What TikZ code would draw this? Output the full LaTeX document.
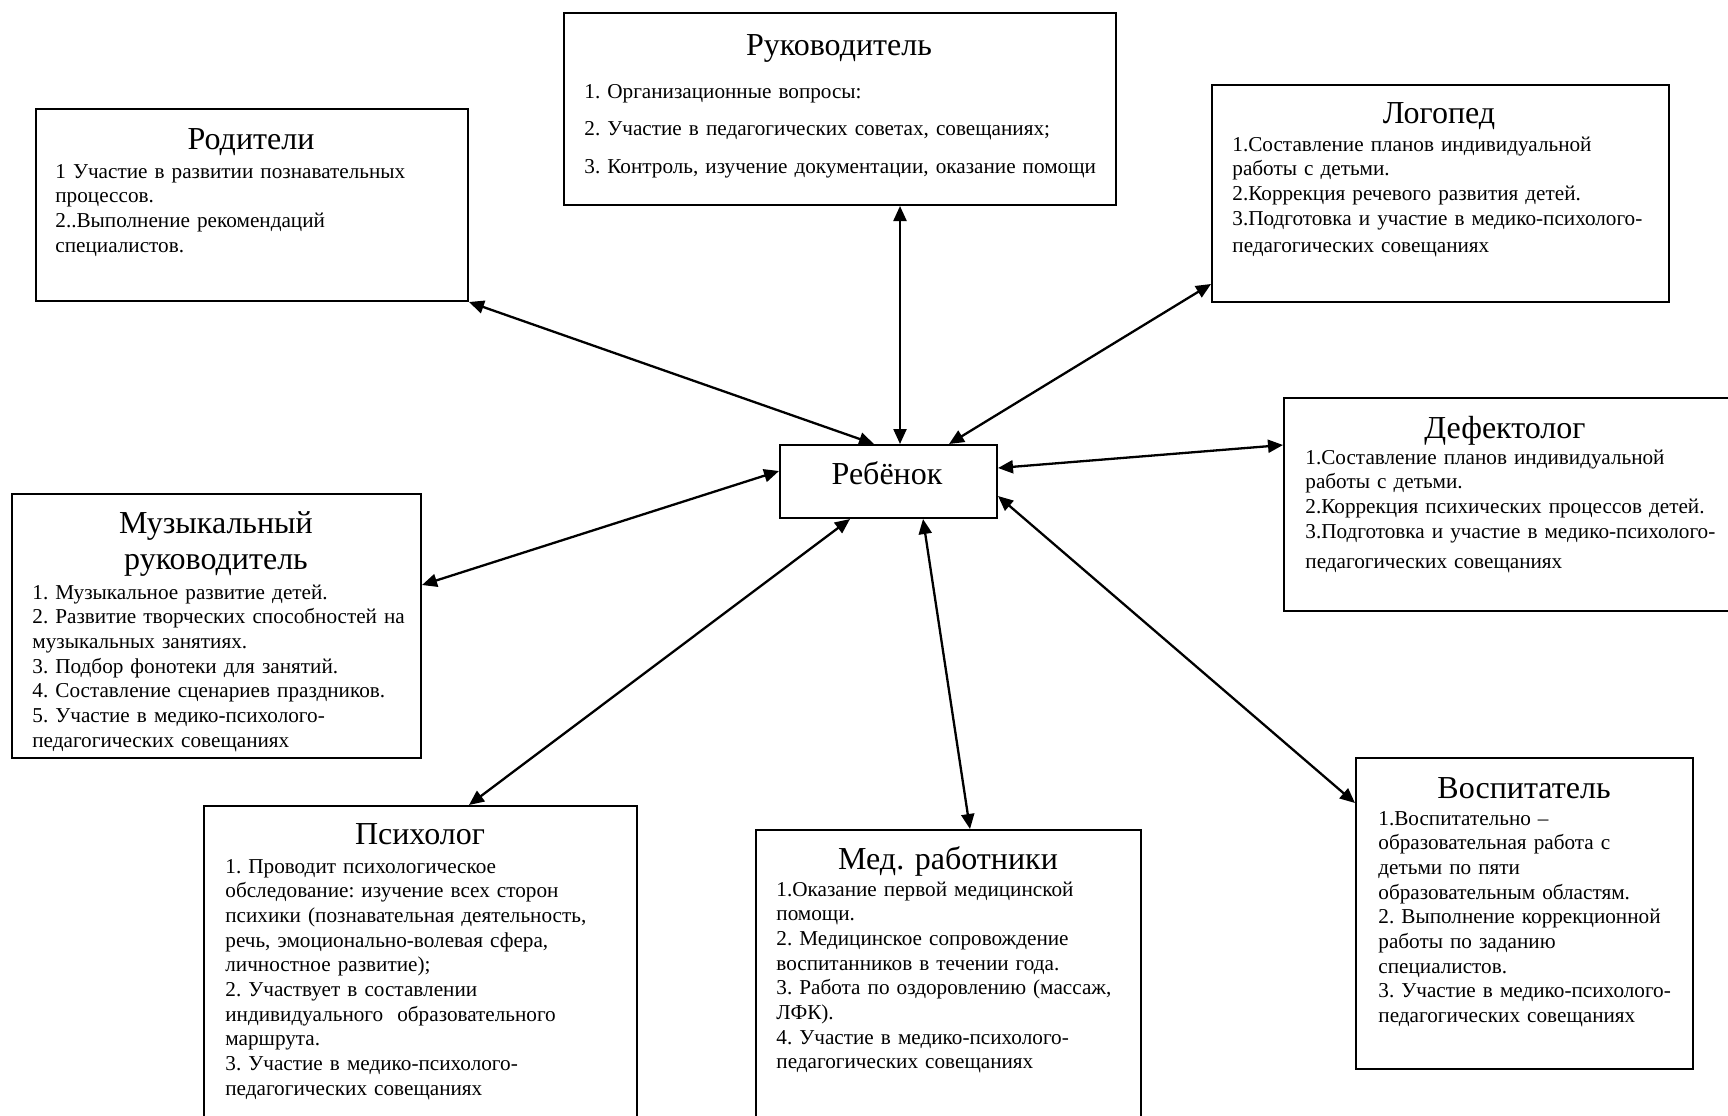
\documentclass[tikz,border=0pt]{standalone}
\usepackage{fontspec}
\setmainfont{Liberation Serif}
\frenchspacing
\usetikzlibrary{arrows.meta}
\begin{document}
\begin{tikzpicture}[x=0.5pt,y=-0.5pt,
  box/.style={draw, line width=1pt, inner sep=0pt, anchor=north west},
  ttl/.style={anchor=base, inner sep=0pt, text width=210pt, align=center, font=\fontsize{16}{18}\selectfont},
  body/.style={anchor=base west, inner sep=0pt, text width=280pt, align=left, font=\fontsize{10.6}{12.35}\selectfont},
  dar/.style={{Triangle[length=7.5pt,width=6.5pt]}-{Triangle[length=7.5pt,width=6.5pt]}, line width=1.15pt}
]
\useasboundingbox (0,0) rectangle (1728,1115);
% boxes
\node[box, minimum width=276pt, minimum height=96pt] (ruk) at (563,12) {};
\node[box, minimum width=216pt, minimum height=96pt] (rod) at (35,108) {};
\node[box, minimum width=228.5pt, minimum height=108.5pt] (log) at (1211,84) {};
\node[box, minimum width=226pt, minimum height=106.5pt] (def) at (1283,397) {};
\node[box, minimum width=108.5pt, minimum height=36.5pt] (reb) at (779,444) {};
\node[box, minimum width=204.5pt, minimum height=132pt] (muz) at (11,493) {};
\node[box, minimum width=216.5pt, minimum height=160pt] (psy) at (203,805) {};
\node[box, minimum width=192.5pt, minimum height=148pt] (med) at (755,829) {};
\node[box, minimum width=168.5pt, minimum height=155.5pt] (vos) at (1355,757) {};
% titles
\node[ttl] (rebt) at (887,484) {Ребёнок};
\node[ttl] (rukt) at (839,55) {Руководитель};
\node[ttl] (rodt) at (251,149) {Родители};
\node[ttl] (logt) at (1439,123) {Логопед};
\node[ttl] (deft) at (1505,438) {Дефектолог};
\node[ttl] (muzt) at (216,533) {Музыкальный\\руководитель};
\node[ttl] (psyt) at (420,844) {Психолог};
\node[ttl] (medt) at (948,869) {Мед. работники};
\node[ttl] (vost) at (1524,798) {Воспитатель};
% bodies
\node[body, font=\fontsize{10.6}{18.75}\selectfont] (rukb) at (584,98) {1. Организационные вопросы:\\
2. Участие в педагогических советах, совещаниях;\\
3. Контроль, изучение документации, оказание помощи};
\node[body] (rodb) at (55,178) {1 Участие в развитии познавательных\\
процессов.\\
2..Выполнение рекомендаций\\
специалистов.};
\node[body] (logb) at (1232,151) {1.Составление планов индивидуальной\\
работы с детьми.\\
2.Коррекция речевого развития детей.\\
3.Подготовка и участие в медико-психолого-\\[1.5pt]
педагогических совещаниях};
\node[body] (defb) at (1305,464) {1.Составление планов индивидуальной\\
работы с детьми.\\
2.Коррекция психических процессов детей.\\
3.Подготовка и участие в медико-психолого-\\[3pt]
педагогических совещаниях};
\node[body] (muzb) at (32,599) {1. Музыкальное развитие детей.\\
2. Развитие творческих способностей на\\
музыкальных занятиях.\\
3. Подбор фонотеки для занятий.\\
4. Составление сценариев праздников.\\
5. Участие в медико-психолого-\\
педагогических совещаниях};
\node[body] (psyb) at (225,873) {1. Проводит психологическое\\
обследование: изучение всех сторон\\
психики (познавательная деятельность,\\
речь, эмоционально-волевая сфера,\\
личностное развитие);\\
2. Участвует в составлении\\
индивидуального\ \ образовательного\\
маршрута.\\
3. Участие в медико-психолого-\\
педагогических совещаниях};
\node[body] (medb) at (776,896) {1.Оказание первой медицинской\\
помощи.\\
2. Медицинское сопровождение\\
воспитанников в течении года.\\
3. Работа по оздоровлению (массаж,\\
ЛФК).\\
4. Участие в медико-психолого-\\
педагогических совещаниях};
\node[body] (vosb) at (1378,825) {1.Воспитательно –\\
образовательная работа с\\
детьми по пяти\\
образовательным областям.\\
2. Выполнение коррекционной\\
работы по заданию\\
специалистов.\\
3. Участие в медико-психолого-\\
педагогических совещаниях};
% connectors
\draw[dar] (rod.south east) -- ([xshift=47.5pt]reb.north west);
\draw[dar] ([xshift=60.5pt]reb.north west |- ruk.south) -- ([xshift=60.5pt]reb.north west);
\draw[dar] ([yshift=9.5pt]log.south west) -- ([xshift=85pt]reb.north west);
\draw[dar] ([yshift=-24pt]def.north west) -- ([yshift=-12pt]reb.north east);
\draw[dar] ([yshift=-46pt]muz.north east) -- ([yshift=-13.5pt]reb.north west);
\draw[dar] ([xshift=133pt]psy.north west) -- ([xshift=35.5pt]reb.south west);
\draw[dar] ([xshift=107.5pt]med.north west) -- ([xshift=72pt]reb.south west);
\draw[dar] ([yshift=-23pt]vos.north west) -- ([yshift=-26pt]reb.north east);
\end{tikzpicture}
\end{document}
